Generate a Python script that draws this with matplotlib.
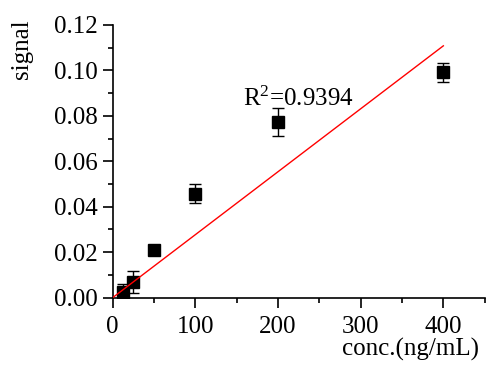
import numpy as np
import matplotlib
matplotlib.use("Agg")
import matplotlib.pyplot as plt
from matplotlib.ticker import MultipleLocator, FormatStrFormatter

# donnees
conc = [12.5, 25, 50, 100, 200, 400]
signal = [0.0026, 0.0068, 0.021, 0.0458, 0.0773, 0.0991]
err = [0.0035, 0.0048, 0.0012, 0.0043, 0.0063, 0.0040]

# droite de regression (extremites)
fit_x = [0, 400]
fit_y = [0, 0.1108]
r2_label = "R$^2$=0.9394"

plt.rcParams['font.family'] = ['Liberation Serif', 'DejaVu Serif']
plt.rcParams['mathtext.fontset'] = 'custom'
plt.rcParams['mathtext.rm'] = 'Liberation Serif'
plt.rcParams['mathtext.it'] = 'Liberation Serif'

fig = plt.figure(figsize=(4.93, 3.72), dpi=100)
ax = fig.add_axes([0.2286, 0.2, 0.7545, 0.733])

ax.errorbar(conc, signal, yerr=err, fmt='s', color='black', markersize=8,
            ecolor='black', elinewidth=1, capsize=4, capthick=1, zorder=2)
ax.plot(fit_x, fit_y, color='red', linewidth=1, zorder=3)

ax.text(158, 0.0842, r2_label, fontsize=18, va='baseline', ha='left')

ax.set_xlim(0, 450)
ax.set_ylim(0, 0.12)
ax.xaxis.set_major_locator(MultipleLocator(100))
ax.xaxis.set_minor_locator(MultipleLocator(50))
ax.yaxis.set_major_locator(MultipleLocator(0.02))
ax.yaxis.set_minor_locator(MultipleLocator(0.01))
ax.yaxis.set_major_formatter(FormatStrFormatter('%.2f'))

for side in ['top', 'right']:
    ax.spines[side].set_visible(False)
for side in ['left', 'bottom']:
    ax.spines[side].set_linewidth(1.2)

ax.tick_params(which='major', direction='out', length=7.5, width=1.2, labelsize=18, pad=3.5)
ax.tick_params(axis='x', which='major', pad=5.5)
ax.tick_params(which='minor', direction='out', length=3.5, width=1.2)

ax.set_ylabel('signal', fontsize=18)
ax.yaxis.set_label_coords(-0.214, 0.912)
ax.set_xlabel('conc.(ng/mL)', fontsize=18)
ax.xaxis.set_label_coords(0.80, -0.148)

fig.savefig('out.png', dpi=100)
